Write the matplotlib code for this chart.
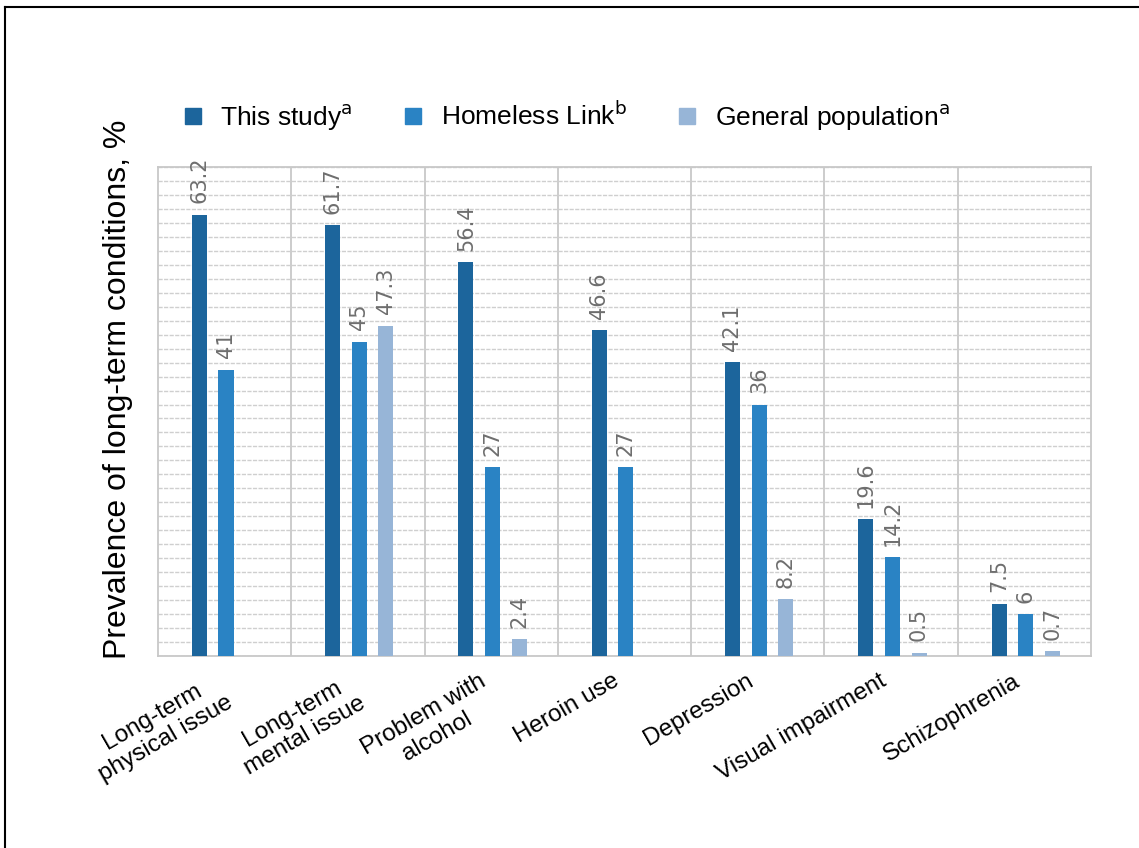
import numpy as np
import matplotlib
matplotlib.use("Agg")
import matplotlib.pyplot as plt
import matplotlib.transforms as mtransforms
from matplotlib.lines import Line2D

plt.rcParams["font.family"] = ["Liberation Sans", "DejaVu Sans"]

categories = [
    "Long-term\nphysical issue",
    "Long-term\nmental issue",
    "Problem with\nalcohol",
    "Heroin use",
    "Depression",
    "Visual impairment",
    "Schizophrenia",
]
this_study = [63.2, 61.7, 56.4, 46.6, 42.1, 19.6, 7.5]
homeless_link = [41, 45, 27, 27, 36, 14.2, 6]
general_pop = [None, 47.3, 2.4, None, 8.2, 0.5, 0.7]

series_names = ["This study$^{\\mathrm{a}}$", "Homeless Link$^{\\mathrm{b}}$",
                "General population$^{\\mathrm{a}}$"]
colors = ["#1c659c", "#2a83c4", "#97b5d7"]

fig = plt.figure(figsize=(11.39, 8.48), dpi=100)
ax = fig.add_axes([158 / 1139, 1 - 656 / 848, (1091 - 158) / 1139, (656 - 167) / 848])

x = np.arange(len(categories))
offsets = [-0.2, 0.0, 0.2]
width = 0.113

for series, off, col in zip([this_study, homeless_link, general_pop], offsets, colors):
    for i, v in enumerate(series):
        if v is None:
            continue
        ax.bar(x[i] + off + 0.01, v, width=width, color=col, zorder=3)
        ax.text(x[i] + off + 0.01, v + 1.6, f"{v:g}", rotation=90, ha="center",
                va="bottom", fontsize=15, color="#6e6e6e",
                family=["DejaVu Sans"])

ax.set_xlim(-0.5, len(categories) - 0.5)
ax.set_ylim(0, 70)
ax.set_yticks(np.arange(0, 71, 2))
ax.yaxis.grid(True, color="#cfcfcf", linestyle=(0, (3, 1)), linewidth=1, zorder=0)
for b in np.arange(0.5, len(categories) - 0.5, 1):
    ax.axvline(b, color="#c8c8c8", linewidth=1.3, zorder=1)
ax.tick_params(axis="y", length=0, labelleft=False)
ax.tick_params(axis="x", length=0, pad=10)
for s in ax.spines.values():
    s.set_color("#c8c8c8")
    s.set_linewidth(1.3)

ax.set_xticks(x)
ax.set_xticklabels(categories, rotation=30, ha="right", rotation_mode="anchor",
                   fontsize=17.5, multialignment="center")
shift = mtransforms.ScaledTranslation(-0.12, 0, fig.dpi_scale_trans)
for lbl in ax.get_xticklabels():
    lbl.set_transform(lbl.get_transform() + shift)

ax.set_ylabel("Prevalence of long-term conditions, %", fontsize=23)
ax.yaxis.set_label_coords(-0.027, 0.546)

handles = [Line2D([0], [0], marker="s", linestyle="", markersize=11,
                  markerfacecolor=c, markeredgecolor=c) for c in colors]
fig.legend(handles, series_names, loc="center left", ncol=3, frameon=False,
           fontsize=19, bbox_to_anchor=(153 / 1139, 1 - 117 / 848),
           handletextpad=0.45, columnspacing=1.7, handlelength=1.2)

# outer frame lines (left and top)
fig.add_artist(Line2D([5 / 1139, 5 / 1139], [0, 1 - 7 / 848], color="black", lw=1.5))
fig.add_artist(Line2D([5 / 1139, 1], [1 - 7 / 848, 1 - 7 / 848], color="black", lw=1.5))

fig.savefig("out.png", dpi=100)
